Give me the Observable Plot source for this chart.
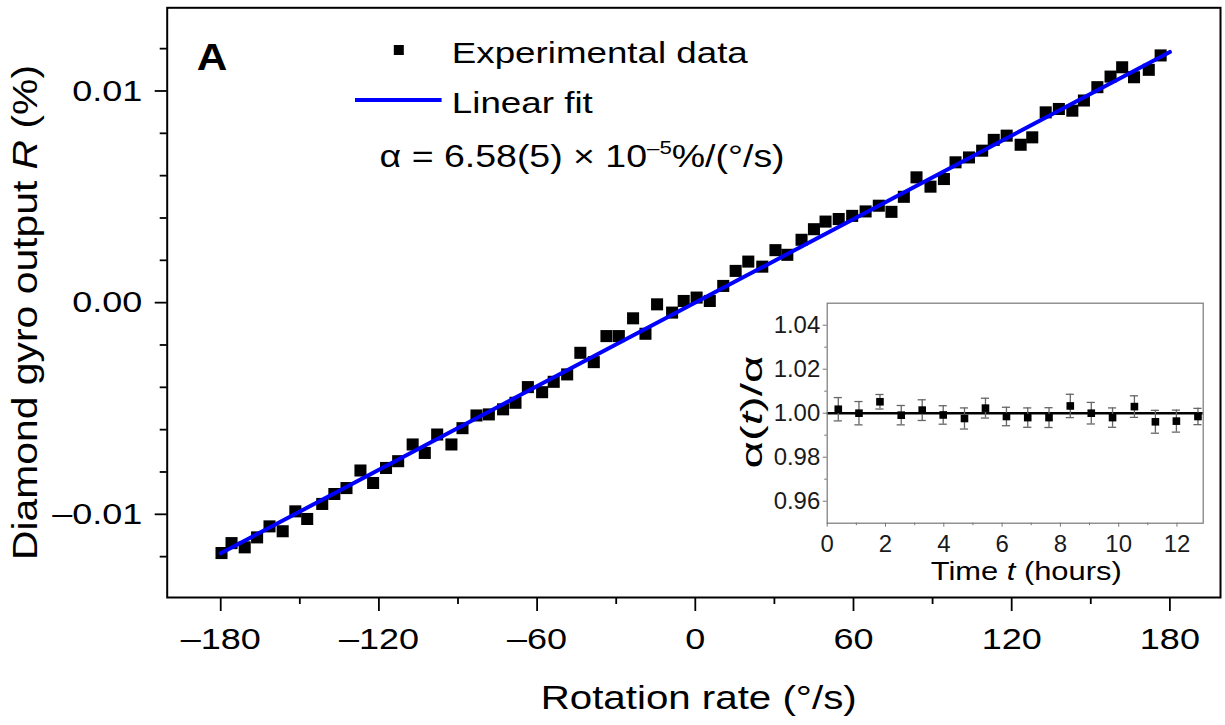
<!DOCTYPE html>
<html>
<head>
<meta charset="utf-8">
<script src="https://cdn.jsdelivr.net/npm/d3@7"></script>
<script src="https://cdn.jsdelivr.net/npm/@observablehq/plot@0.6"></script>
<style>
  html, body { margin: 0; padding: 0; background: white; }
  #wrap { position: relative; width: 1225px; height: 725px; }
  #wrap svg { position: absolute; }
</style>
</head>
<body>
<div id="wrap"></div>
<script>
// ---- Main panel data (rotation rate in °/s, gyro output R in %) ----
const rateX = [-179.7, -175.9, -170.9, -166.2, -161.5, -156.5, -151.7, -147.2, -141.5, -136.9,
  -132.3, -127.0, -122.2, -117.3, -112.7, -107.2, -102.6, -97.9, -92.5, -88.3,
  -83.0, -78.3, -72.9, -68.2, -63.5, -58.1, -53.7, -48.6, -43.6, -38.5,
  -33.7, -29.0, -23.6, -18.9, -14.5, -8.8, -4.4, 0.5, 5.5, 10.6,
  15.3, 20.1, 25.4, 30.4, 34.9, 40.3, 45.0, 49.4, 54.4, 59.5,
  64.6, 69.6, 74.4, 79.1, 83.9, 89.2, 94.3, 98.7, 103.8, 108.8,
  113.2, 118.1, 123.4, 127.8, 132.9, 137.9, 143.0, 147.4, 152.5, 157.5,
  161.9, 166.4, 172.0, 176.5];
const outputR = [-0.01183, -0.01136, -0.01156, -0.01109, -0.01057, -0.01080, -0.00986, -0.01022, -0.00951, -0.00904,
  -0.00876, -0.00793, -0.00852, -0.00781, -0.00749, -0.00670, -0.00710, -0.00623, -0.00670, -0.00593,
  -0.00533, -0.00528, -0.00504, -0.00473, -0.00399, -0.00423, -0.00374, -0.00339, -0.00237, -0.00281,
  -0.00158, -0.00158, -0.00074, -0.00147, -0.00008, -0.00047, 0.00008, 0.00024, 0.00008, 0.00079,
  0.00150, 0.00194, 0.00170, 0.00248, 0.00226, 0.00297, 0.00347, 0.00383, 0.00395, 0.00410,
  0.00431, 0.00458, 0.00429, 0.00500, 0.00592, 0.00548, 0.00584, 0.00663, 0.00686, 0.00718,
  0.00769, 0.00789, 0.00746, 0.00781, 0.00899, 0.00915, 0.00907, 0.00955, 0.01018, 0.01068,
  0.01112, 0.01065, 0.01100, 0.01168];
// Linear fit endpoints (alpha = 6.58e-5 %/(°/s))
const fitX = [-180, 180];
const fitY = [-0.011844, 0.011844];

// Main tick values
const xMajorTicks = [-180, -120, -60, 0, 60, 120, 180];
const xMinorTicks = [-150, -90, -30, 30, 90, 150];
const yMajorTicks = [-0.01, 0, 0.01];
const yMinorTicks = [-0.012, -0.008, -0.006, -0.004, -0.002, 0.002, 0.004, 0.006, 0.008, 0.012];

// ---- Inset data (time in hours, alpha(t)/alpha, error) ----
const hoursT = [0.38, 1.09, 1.81, 2.54, 3.26, 3.98, 4.71, 5.43, 6.15, 6.88, 7.61, 8.34, 9.06, 9.79, 10.54, 11.26, 11.98, 12.72];
const ratioA = [1.0018, 1.0000, 1.0052, 0.9991, 1.0014, 0.9992, 0.9976, 1.0023, 0.9985, 0.9980, 0.9980, 1.0033, 1.0000, 0.9980, 1.0030, 0.9961, 0.9964, 0.9985];
const ratioErr = [0.0053, 0.0053, 0.0033, 0.0044, 0.0047, 0.0042, 0.0048, 0.0045, 0.0042, 0.0044, 0.0045, 0.0053, 0.0049, 0.0044, 0.0049, 0.0052, 0.0050, 0.0037];
const insetXMajor = [0, 2, 4, 6, 8, 10, 12];
const insetXMinor = [1, 3, 5, 7, 9, 11];
const insetYMajor = [0.96, 0.98, 1.00, 1.02, 1.04];
const insetYMinor = [0.97, 0.99, 1.01, 1.03];

const FONT = "'Liberation Sans', Arial, Helvetica, sans-serif";
const dash = v => (v < 0 ? "\u2013" : "");

const mainData = rateX.map((x, i) => ({x, y: outputR[i]}));
const fitData = fitX.map((x, i) => ({x, y: fitY[i]}));
const insetData = hoursT.map((t, i) => ({t, v: ratioA[i], e: ratioErr[i]}));

const W = 1225, H = 725;
const main = Plot.plot({
  width: W, height: H,
  marginLeft: 166.7, marginRight: 5, marginTop: 7.3, marginBottom: 128,
  style: {fontFamily: FONT, fontSize: "30px", color: "black", background: "white", overflow: "visible"},
  x: {domain: [-200.3, 199.2]},
  y: {domain: [-0.01393, 0.01393]},
  marks: [
    Plot.dot(mainData, {x: "x", y: "y", symbol: "square", r: 6.8, fill: "black", stroke: "none"}),
    Plot.line(fitData, {x: "x", y: "y", stroke: "#0000ff", strokeWidth: 4}),
    Plot.frame({stroke: "black", strokeWidth: 2}),
    Plot.axisX({ticks: xMajorTicks, tickSize: 14, tickPadding: 16, strokeWidth: 1.8, fontSize: 30, label: null,
      tickFormat: d => dash(d) + Math.abs(d)}),
    Plot.axisX({ticks: xMinorTicks, tickSize: 7, strokeWidth: 1.8, label: null, tickFormat: () => ""}),
    Plot.axisY({ticks: yMajorTicks, tickSize: 12, tickPadding: 13, strokeWidth: 1.8, fontSize: 30, label: null,
      tickFormat: d => dash(d) + Math.abs(d).toFixed(2)}),
    Plot.axisY({ticks: yMinorTicks, tickSize: 7, strokeWidth: 1.8, label: null, tickFormat: () => ""})
  ]
});

const insetL = 730, insetT = 300, insetW = 480, insetH = 295;
const inset = Plot.plot({
  width: insetW, height: insetH,
  marginLeft: 96.7, marginRight: 7.3, marginTop: 2.7, marginBottom: 72.3,
  style: {fontFamily: FONT, fontSize: "23px", color: "#1a1a1a", background: "white", overflow: "visible"},
  x: {domain: [0, 12.9]},
  y: {domain: [0.95, 1.05]},
  marks: [
    Plot.ruleY([1], {stroke: "black", strokeWidth: 2.5}),
    Plot.ruleX(insetData, {x: "t", y1: d => d.v - d.e, y2: d => d.v + d.e, stroke: "#666", strokeWidth: 1.3}),
    Plot.ruleY(insetData, {x1: d => d.t - 0.14, x2: d => d.t + 0.14, y: d => d.v + d.e, stroke: "#666", strokeWidth: 1.3}),
    Plot.ruleY(insetData, {x1: d => d.t - 0.14, x2: d => d.t + 0.14, y: d => d.v - d.e, stroke: "#666", strokeWidth: 1.3}),
    Plot.dot(insetData, {x: "t", y: "v", symbol: "square", r: 4.3, fill: "black", stroke: "none"}),
    Plot.frame({stroke: "#777", strokeWidth: 1.2}),
    Plot.axisX({ticks: insetXMajor, tickSize: 4, tickPadding: 8, stroke: "#777", fontSize: 23, label: null, tickFormat: d => String(d)}),
    Plot.axisX({ticks: insetXMinor, tickSize: 2.5, stroke: "#777", label: null, tickFormat: () => ""}),
    Plot.axisY({ticks: insetYMajor, tickSize: 4, tickPadding: 3, stroke: "#777", fontSize: 23, label: null, tickFormat: d => d.toFixed(2)}),
    Plot.axisY({ticks: insetYMinor, tickSize: 2.5, stroke: "#777", label: null, tickFormat: () => ""})
  ]
});

// widen Plot-generated tick labels to match the reference lettering
function widen(svg, f) {
  svg.querySelectorAll("text").forEach(el => {
    const t = el.getAttribute("transform") || "";
    el.setAttribute("transform", (t + ` scale(${f},1)`).trim());
  });
}
widen(main, 1.2);
widen(inset, 1.04);

function addText(svg, o) {
  const s = d3.select(svg).append("text")
    .attr("font-family", FONT)
    .attr("font-size", o.size)
    .attr("fill", o.fill || "black")
    .attr("text-anchor", o.anchor || "start")
    .attr("transform", `translate(${o.x},${o.y})` + (o.rotate ? ` rotate(${o.rotate})` : ""));
  if (o.weight) s.attr("font-weight", o.weight);
  if (o.length) s.attr("textLength", o.length).attr("lengthAdjust", "spacingAndGlyphs");
  for (const p of o.parts) {
    const ts = s.append("tspan").text(p.t);
    if (p.i) ts.attr("font-style", "italic");
    if (p.size) ts.attr("font-size", p.size);
    if (p.dy) ts.attr("dy", p.dy);
  }
  return s;
}

// Main axis titles
addText(main, {x: 698.7, y: 708.7, size: 33, anchor: "middle", length: 316,
  parts: [{t: "Rotation rate (°/s)"}]});
addText(main, {x: 37, y: 312.5, size: 35, anchor: "middle", rotate: -90, length: 495,
  parts: [{t: "Diamond gyro output "}, {t: "R", i: true}, {t: " (%)"}]});

// Panel letter
addText(main, {x: 196.7, y: 70, size: 37, weight: "bold", length: 30.6, parts: [{t: "A"}]});

// Legend
d3.select(main).append("rect").attr("x", 393.8).attr("y", 45).attr("width", 10).attr("height", 10).attr("fill", "black");
addText(main, {x: 451.8, y: 63.3, size: 30, length: 296, parts: [{t: "Experimental data"}]});
d3.select(main).append("line").attr("x1", 355).attr("x2", 441.6).attr("y1", 100).attr("y2", 100)
  .attr("stroke", "#0000ff").attr("stroke-width", 4);
addText(main, {x: 451.8, y: 113.3, size: 30, length: 141, parts: [{t: "Linear fit"}]});
addText(main, {x: 379.6, y: 166.7, size: 32, length: 405,
  parts: [{t: "α = 6.58(5) × 10"}, {t: "\u20135", size: 19, dy: -13}, {t: "%/(°/s)", size: 32, dy: 13}]});

// Inset titles
addText(inset, {x: 1026.2 - insetL, y: 580 - insetT, size: 26, anchor: "middle", length: 191,
  parts: [{t: "Time "}, {t: "t", i: true}, {t: " (hours)"}]});
addText(inset, {x: 762 - insetL, y: 412 - insetT, size: 30, anchor: "middle", rotate: -90, length: 113,
  parts: [{t: "α("}, {t: "t", i: true}, {t: ")/α"}]});

const wrap = document.getElementById("wrap");
main.style.left = "0px"; main.style.top = "0px";
inset.style.left = insetL + "px"; inset.style.top = insetT + "px";
wrap.append(main);
wrap.append(inset);
</script>
</body>
</html>
